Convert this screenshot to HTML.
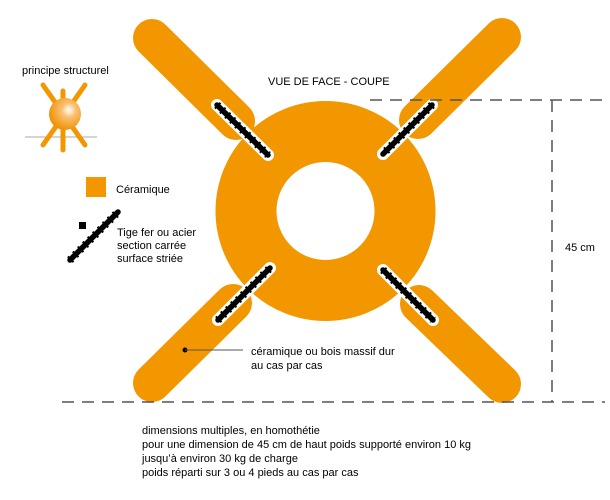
<!DOCTYPE html>
<html><head><meta charset="utf-8"><style>
html,body{margin:0;padding:0;background:#fff;}
svg{display:block;font-family:"Liberation Sans","DejaVu Sans",sans-serif;}
</style></head><body>
<svg width="610" height="500" viewBox="0 0 610 500" xmlns="http://www.w3.org/2000/svg">
<defs>
<radialGradient id="g" cx="0.62" cy="0.38" r="0.65">
<stop offset="0" stop-color="#fff"/><stop offset="0.35" stop-color="#f9c070"/><stop offset="1" stop-color="#f09000"/>
</radialGradient>
</defs>
<g stroke="#f39700" stroke-width="38" stroke-linecap="round">
<line x1="152" y1="38" x2="236" y2="121"/>
<line x1="502" y1="37" x2="418" y2="120"/>
<line x1="152" y1="383" x2="233" y2="303"/>
<line x1="502" y1="384" x2="419" y2="304"/>
</g>
<circle cx="325.5" cy="211" r="79.5" fill="none" stroke="#f39700" stroke-width="61"/>
<g stroke="#fff" stroke-width="12" stroke-linecap="round">
<line x1="217" y1="105" x2="268" y2="155"/>
<line x1="432" y1="105" x2="383" y2="154"/>
<line x1="218" y1="320" x2="270" y2="268"/>
<line x1="383" y1="270" x2="433" y2="320"/>
</g>
<g stroke="#000" stroke-width="5.5" stroke-linecap="round">
<line x1="217" y1="105" x2="268" y2="155"/>
<line x1="432" y1="105" x2="383" y2="154"/>
<line x1="218" y1="320" x2="270" y2="268"/>
<line x1="383" y1="270" x2="433" y2="320"/>
<line x1="70" y1="260" x2="118" y2="212"/>
</g>
<g stroke="#000" stroke-width="8" stroke-linecap="butt" stroke-dasharray="2 5">
<line x1="217" y1="105" x2="268" y2="155"/>
<line x1="432" y1="105" x2="383" y2="154"/>
<line x1="218" y1="320" x2="270" y2="268"/>
<line x1="383" y1="270" x2="433" y2="320"/>
<line x1="70" y1="260" x2="118" y2="212"/>
</g>
<rect x="79" y="222" width="7" height="7" fill="#000"/>
<g stroke="#555" stroke-width="1.5" stroke-dasharray="12 8" fill="none">
<line x1="370" y1="100" x2="605" y2="100"/>
<line x1="62" y1="402" x2="605" y2="402"/>
<line x1="552" y1="100" x2="552" y2="402"/>
</g>
<line x1="25" y1="137" x2="97" y2="137" stroke="#aaa" stroke-width="1"/>
<g stroke="#f39700" stroke-width="5" stroke-linecap="round">
<line x1="43" y1="85" x2="85" y2="145"/>
<line x1="85" y1="85" x2="43" y2="145"/>
<line x1="63" y1="91" x2="63" y2="150"/>
</g>
<circle cx="65" cy="114" r="16" fill="url(#g)"/>
<rect x="86" y="177" width="20" height="20" fill="#f39700"/>
<circle cx="185" cy="350" r="2.5" fill="#000"/>
<line x1="185" y1="350" x2="243" y2="350" stroke="#555" stroke-width="1"/>
<g font-size="11" fill="#000">
<text x="22" y="74">principe structurel</text>
<text x="116" y="193">Céramique</text>
<text x="117" y="236">Tige fer ou acier</text>
<text x="117" y="249">section carrée</text>
<text x="117" y="262">surface striée</text>
<text x="268" y="85">VUE DE FACE - COUPE</text>
<text x="565" y="251">45 cm</text>
<text x="251" y="355">céramique ou bois massif dur</text>
<text x="251" y="369">au cas par cas</text>
<text x="142" y="434">dimensions multiples, en homothétie</text>
<text x="142" y="448">pour une dimension de 45 cm de haut poids supporté environ 10 kg</text>
<text x="142" y="462">jusqu’à environ 30 kg de charge</text>
<text x="142" y="476">poids réparti sur 3 ou 4 pieds au cas par cas</text>
</g>
</svg>
</body></html>
